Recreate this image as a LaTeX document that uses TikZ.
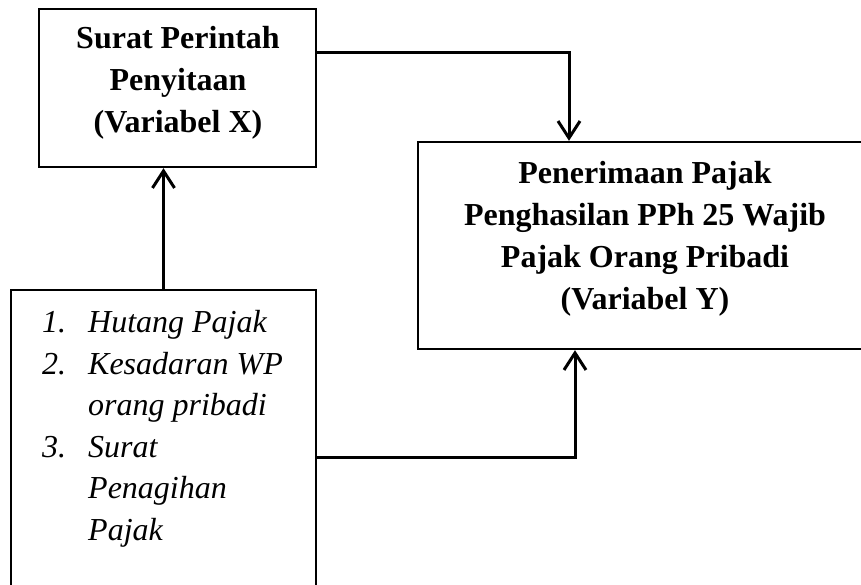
\documentclass[tikz,border=0pt]{standalone}
\usepackage{fontspec}
\setmainfont{Liberation Serif}
\usetikzlibrary{arrows.meta}
\tikzset{
  box/.style={draw, line width=2.4pt, inner sep=0pt, fill=none},
  boldtxt/.style={font=\bfseries\fontsize{32}{41.7}\selectfont, align=center, inner sep=0pt, anchor=north},
  listtxt/.style={font=\itshape\fontsize{32}{41.5}\selectfont, align=left, inner sep=0pt, anchor=north west},
  arr/.style={line width=3pt, -{Straight Barb[length=17pt,width=22pt]}}
}
\newcommand{\numitem}[1]{\makebox[46pt][l]{#1}}
\begin{document}
\begin{tikzpicture}[x=1pt,y=-1pt]
\useasboundingbox (0,0) rectangle (861,585);
\fill[white] (0,0) rectangle (861,585);
\clip (0,0) rectangle (861,585);
% boxes
\node[box, minimum width=277pt, minimum height=158pt] (A) at (177.5,88) {};
\node[box, minimum width=454pt, minimum height=207pt] (B) at (645,245.5) {};
\node[box, minimum width=305pt, minimum height=334pt] (C) at (163.5,457) {};
% texts
\node[boldtxt] (At) at (178,26.5) {Surat Perintah\\Penyitaan\\(Variabel X)};
\node[boldtxt] (Bt) at (645,161.5) {Penerimaan Pajak\\Penghasilan PPh 25 Wajib\\Pajak Orang Pribadi\\(Variabel Y)};
\node[listtxt] (Ct) at (42,310.5) {\numitem{1.}Hutang Pajak\\\numitem{2.}Kesadaran WP\\\numitem{}orang pribadi\\\numitem{3.}Surat\\\numitem{}Penagihan\\\numitem{}Pajak};
% connectors
\draw[arr] ([yshift=35pt]A.east) -| ([xshift=-76pt]B.north);
\draw[arr] (C.north) -- (C.north |- A.south);
\draw[arr] (C.east) -| ([xshift=-70pt]B.south);
\end{tikzpicture}
\end{document}
